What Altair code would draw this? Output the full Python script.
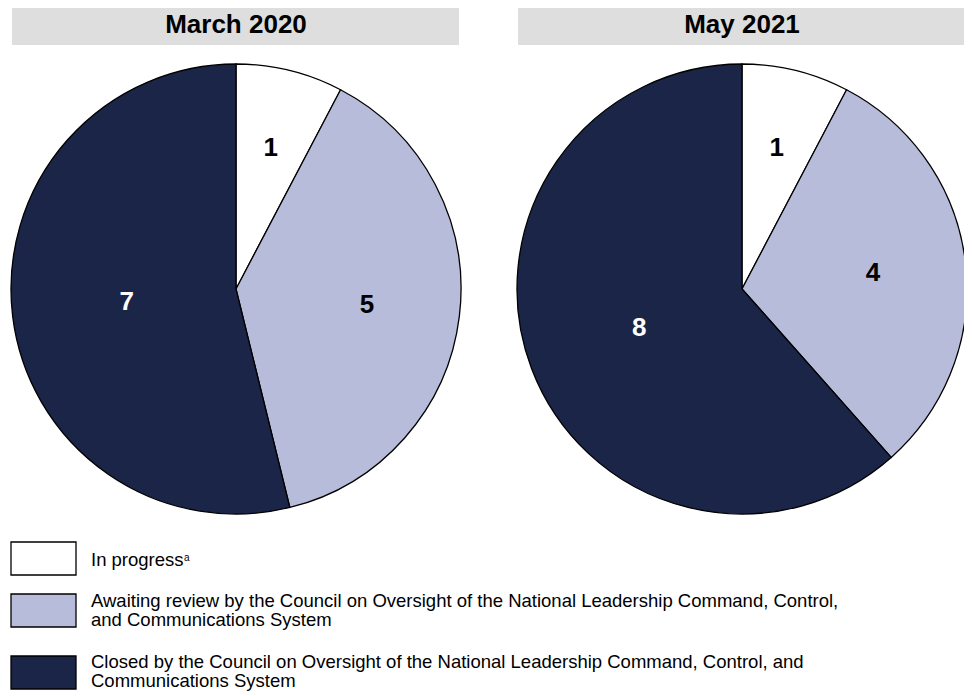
import altair as alt
import pandas as pd

periods = ["March 2020", "May 2021"]
statuses = ["In progress", "Awaiting review", "Closed"]
march_counts = [1, 5, 7]
may_counts = [1, 4, 8]
fill_colors = ["#FFFFFF", "#B8BCDB", "#1A2547"]
legend_lines = [
    ["In progress"],
    ["Awaiting review by the Council on Oversight of the National Leadership Command, Control,",
     "and Communications System"],
    ["Closed by the Council on Oversight of the National Leadership Command, Control, and",
     "Communications System"],
]

rows = []
for p, counts in zip(periods, [march_counts, may_counts]):
    for i, (s, c) in enumerate(zip(statuses, counts)):
        rows.append({"period": p, "status": s, "order": i, "count": c})
df = pd.DataFrame(rows)

FONT = "Liberation Sans"
centers = {"March 2020": 220, "May 2021": 726}
CY = 281
R = 225

layers = []
for p in periods:
    cx = centers[p]
    base = alt.Chart(df).transform_filter(alt.datum.period == p)
    # header bar
    layers.append(
        alt.Chart(pd.DataFrame({"t": [p]})).mark_rect(color="#DEDEDE").encode(
            x=alt.value(cx - 224), x2=alt.value(cx + 223), y=alt.value(0), y2=alt.value(37)
        )
    )
    layers.append(
        alt.Chart(pd.DataFrame({"t": [p]})).mark_text(
            font=FONT, fontSize=26, fontWeight="bold", color="black", baseline="middle"
        ).encode(text="t:N", x=alt.value(cx), y=alt.value(17))
    )
    layers.append(
        base.mark_arc(stroke="black", strokeWidth=1.3).encode(
            theta=alt.Theta("count:Q", stack=True),
            order=alt.Order("order:Q"),
            color=alt.Color("status:N", scale=alt.Scale(domain=statuses, range=fill_colors), legend=None),
            x=alt.value(cx), y=alt.value(CY), radius=alt.value(R),
        )
    )
    layers.append(
        base.transform_window(cum="sum(count)", sort=[alt.SortField("order")], frame=[None, 0])
        .transform_joinaggregate(total="sum(count)")
        .transform_calculate(
            ang="2 * PI * (datum.cum - datum.count / 2) / datum.total",
            lr="datum.status == 'In progress' ? 145 : (datum.status == 'Closed' ? 110 : 132)",
        )
        .mark_text(font=FONT, fontSize=26, fontWeight="bold", baseline="middle").encode(
            theta=alt.Theta("ang:Q", scale=None),
            radius=alt.Radius("lr:Q", scale=None),
            text="count:Q",
            color=alt.condition(alt.datum.status == "Closed", alt.value("white"), alt.value("black")),
            x=alt.value(cx), y=alt.value(CY),
        )
    )

# legend
box_tops = [534, 586, 648]
line_bases = [[558], [599, 618], [660, 679]]
for i, (s, col) in enumerate(zip(statuses, fill_colors)):
    layers.append(
        alt.Chart(pd.DataFrame({"s": [s]})).mark_rect(color=col, stroke="black", strokeWidth=1.3).encode(
            x=alt.value(-5), x2=alt.value(60), y=alt.value(box_tops[i]), y2=alt.value(box_tops[i] + 33)
        )
    )
    for j, line in enumerate(legend_lines[i]):
        layers.append(
            alt.Chart(pd.DataFrame({"t": [line]})).mark_text(
                font=FONT, fontSize=18.5, align="left", baseline="alphabetic", color="black"
            ).encode(text="t:N", x=alt.value(75), y=alt.value(line_bases[i][j]))
        )
layers.append(
    alt.Chart(pd.DataFrame({"t": ["a"]})).mark_text(
        font=FONT, fontSize=10, align="left", baseline="alphabetic", color="black"
    ).encode(text="t:N", x=alt.value(168), y=alt.value(553))
)

chart = alt.layer(*layers).properties(
    width=948, height=688,
    padding={"left": 8, "top": 0, "right": 0, "bottom": 0},
    autosize=alt.AutoSizeParams(type="none"),
).configure_view(stroke=None)

chart.save("out.html", embed_options={"renderer": "svg", "actions": False})
